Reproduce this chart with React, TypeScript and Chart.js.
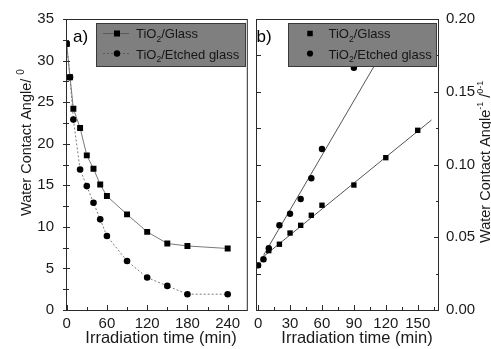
import React, { useEffect, useRef } from 'react';
import { Chart, registerables } from 'chart.js';

Chart.register(...registerables);

const FONT = '"Liberation Sans", Arial, Helvetica, sans-serif';
const TXT = '#1a1a1a';

// ---- panel a) data: water contact angle vs irradiation time ----
const timeA = [0, 5, 10, 20, 30, 40, 50, 60, 90, 120, 150, 180, 240];
const angleGlass = [32, 28, 24.2, 21.9, 18.6, 17, 15.1, 13.7, 11.5, 9.4, 8, 7.7, 7.4];
const angleEtched = [32, 28, 22.9, 16.9, 14.9, 12.9, 10.9, 8.9, 5.9, 3.9, 2.9, 1.9, 1.9];
const ticksA_X = [0, 60, 120, 180, 240];
const ticksA_Y = [0, 5, 10, 15, 20, 25, 30, 35];

// ---- panel b) data: inverse contact angle vs irradiation time ----
const timeBGlass = [0, 5, 10, 20, 30, 40, 50, 60, 90, 120, 150];
const invGlass = [0.0307, 0.0348, 0.0408, 0.0452, 0.0529, 0.0582, 0.0651, 0.072, 0.0859, 0.1047, 0.1235];
const timeBEtched = [0, 5, 10, 20, 30, 40, 50, 60, 90];
const invEtched = [0.0307, 0.0348, 0.0424, 0.0582, 0.0662, 0.0763, 0.0905, 0.1107, 0.1665];
const fitGlassX = [3, 163];
const fitGlassY = [0.0355, 0.1306];
const fitEtchedX = [5, 120];
const fitEtchedY = [0.0375, 0.1813];
const ticksB_X = [0, 30, 60, 90, 120, 150];
const ticksB_Y = [0, 0.05, 0.1, 0.15, 0.2];

type Part = { t: string; k?: 'sub' | 'sup' };

function drawParts(ctx: CanvasRenderingContext2D, x: number, y: number, parts: Part[], size: number, small: number) {
  let cx = x;
  for (const p of parts) {
    const fs = p.k ? small : size;
    ctx.font = `${fs}px ${FONT}`;
    const dy = p.k === 'sub' ? size * 0.28 : p.k === 'sup' ? -size * 0.42 : 0;
    ctx.fillText(p.t, cx, y + dy);
    cx += ctx.measureText(p.t).width;
  }
  return cx - x;
}

function drawSquare(ctx: CanvasRenderingContext2D, x: number, y: number, s: number) {
  ctx.fillStyle = '#000';
  ctx.fillRect(x - s / 2, y - s / 2, s, s);
}
function drawCircle(ctx: CanvasRenderingContext2D, x: number, y: number, r: number) {
  ctx.fillStyle = '#000';
  ctx.beginPath();
  ctx.arc(x, y, r, 0, Math.PI * 2);
  ctx.fill();
}

function drawLegendBox(ctx: CanvasRenderingContext2D, x: number, y: number, w: number, h: number) {
  ctx.fillStyle = '#7f7f7f';
  ctx.fillRect(x, y, w, h);
  ctx.strokeStyle = '#3a3a3a';
  ctx.lineWidth = 1;
  ctx.strokeRect(x + 0.5, y + 0.5, w - 1, h - 1);
}

function frameAndTicks(chart: any, opts: {
  xMinor: number; xMajor: number; xMax: number;
  yMinor: number; yMajor: number; yMax: number;
  ySide: 'left' | 'right';
  mirrorLeft?: boolean;
}) {
  const { ctx, chartArea: a, scales } = chart;
  const xs = scales.x, ys = scales.y;
  ctx.save();
  ctx.strokeStyle = '#2a2a2a';
  ctx.lineWidth = 1;
  ctx.strokeRect(a.left + 0.5, a.top + 0.5, a.right - a.left - 1, a.bottom - a.top);
  ctx.beginPath();
  const nx = Math.round(opts.xMax / opts.xMinor);
  for (let i = 0; i <= nx; i++) {
    const v = i * opts.xMinor;
    const px = Math.round(xs.getPixelForValue(v)) + 0.5;
    const major = Math.abs(v / opts.xMajor - Math.round(v / opts.xMajor)) < 1e-6;
    const len = major ? 5 : 3;
    ctx.moveTo(px, a.bottom);
    ctx.lineTo(px, a.bottom - len);
  }
  const ny = Math.round(opts.yMax / opts.yMinor);
  for (let i = 0; i <= ny; i++) {
    const v = i * opts.yMinor;
    const py = Math.round(ys.getPixelForValue(v)) + 0.5;
    const major = Math.abs(v / opts.yMajor - Math.round(v / opts.yMajor)) < 1e-6;
    if (opts.ySide === 'left') {
      ctx.moveTo(a.left - 3, py);
      ctx.lineTo(a.left + (major ? 4 : 3), py);
    } else {
      const len = major ? 5 : 3;
      ctx.moveTo(a.right, py);
      ctx.lineTo(a.right - len, py);
      if (opts.mirrorLeft) {
        ctx.moveTo(a.left + 1, py);
        ctx.lineTo(a.left + 5, py);
      }
    }
  }
  ctx.stroke();
  ctx.restore();
}

const leftDecor = {
  id: 'leftDecor',
  afterDatasetsDraw(chart: any) {
    const ctx: CanvasRenderingContext2D = chart.ctx;
    frameAndTicks(chart, { xMinor: 30, xMajor: 60, xMax: 240, yMinor: 2.5, yMajor: 5, yMax: 35, ySide: 'left' });
    ctx.save();
    // legend
    drawLegendBox(ctx, 96, 23, 150, 44);
    ctx.strokeStyle = '#5a5a5a';
    ctx.lineWidth = 1;
    ctx.beginPath();
    ctx.moveTo(103, 33.5);
    ctx.lineTo(129, 33.5);
    ctx.stroke();
    ctx.setLineDash([2, 2]);
    ctx.beginPath();
    ctx.moveTo(103, 53.5);
    ctx.lineTo(129, 53.5);
    ctx.stroke();
    ctx.setLineDash([]);
    drawSquare(ctx, 117, 33.5, 6);
    drawCircle(ctx, 117, 53.5, 3.2);
    ctx.fillStyle = '#161616';
    ctx.textBaseline = 'alphabetic';
    ctx.textAlign = 'left';
    drawParts(ctx, 136, 38, [{ t: 'TiO' }, { t: '2', k: 'sub' }, { t: '/Glass' }], 13, 8.5);
    drawParts(ctx, 136, 58.5, [{ t: 'TiO' }, { t: '2', k: 'sub' }, { t: '/Etched glass' }], 13, 8.5);
    // panel label
    ctx.fillStyle = '#000';
    ctx.font = `17px ${FONT}`;
    ctx.fillText('a)', 73, 41.6);
    // x title
    ctx.fillStyle = TXT;
    ctx.font = `16.5px ${FONT}`;
    ctx.textAlign = 'center';
    ctx.fillText('Irradiation time (min)', 161, 342.5);
    // y title (rotated)
    ctx.translate(30.5, 216);
    ctx.rotate(-Math.PI / 2);
    ctx.textAlign = 'left';
    drawParts(ctx, 0, 0, [{ t: 'Water Contact Angle/ ' }, { t: '0', k: 'sup' }], 14.5, 10);
    ctx.restore();
  },
};

const rightDecor = {
  id: 'rightDecor',
  afterDatasetsDraw(chart: any) {
    const ctx: CanvasRenderingContext2D = chart.ctx;
    frameAndTicks(chart, { xMinor: 15, xMajor: 30, xMax: 165, yMinor: 0.025, yMajor: 0.05, yMax: 0.2, ySide: 'right', mirrorLeft: true });
    const ox = 252; // page offset of this canvas
    ctx.save();
    drawLegendBox(ctx, 288 - ox, 23, 149, 44);
    drawSquare(ctx, 310 - ox, 33.5, 5.5);
    drawCircle(ctx, 310 - ox, 53.5, 3.1);
    ctx.fillStyle = '#161616';
    ctx.textBaseline = 'alphabetic';
    ctx.textAlign = 'left';
    drawParts(ctx, 328.5 - ox, 38, [{ t: 'TiO' }, { t: '2', k: 'sub' }, { t: '/Glass' }], 13, 8.5);
    drawParts(ctx, 328.5 - ox, 58.5, [{ t: 'TiO' }, { t: '2', k: 'sub' }, { t: '/Etched glass' }], 13, 8.5);
    ctx.fillStyle = '#000';
    ctx.font = `17px ${FONT}`;
    ctx.fillText('b)', 256.5 - ox, 41.6);
    ctx.fillStyle = TXT;
    ctx.font = `16.5px ${FONT}`;
    ctx.textAlign = 'center';
    ctx.fillText('Irradiation time (min)', 357 - ox, 342.5);
    ctx.translate(489.5 - ox, 243);
    ctx.rotate(-Math.PI / 2);
    ctx.textAlign = 'left';
    drawParts(ctx, 0, 0, [{ t: 'Water Contact Angle' }, { t: '-1', k: 'sup' }, { t: ' /' }, { t: '0-1', k: 'sup' }], 14.5, 9);
    ctx.restore();
  },
};

const tickFont = { family: FONT, size: 15 };

function pts(xs: number[], ys: number[]) {
  return xs.map((x, i) => ({ x, y: ys[i] }));
}

export default function App() {
  const leftRef = useRef<HTMLCanvasElement>(null);
  const rightRef = useRef<HTMLCanvasElement>(null);

  useEffect(() => {
    const left = new Chart(leftRef.current as HTMLCanvasElement, {
      type: 'scatter',
      data: {
        datasets: [
          {
            data: pts(timeA, angleGlass),
            showLine: true,
            borderColor: '#7a7a7a',
            borderWidth: 1,
            pointStyle: 'rect',
            pointRadius: 4.2,
            pointBackgroundColor: '#000',
            pointBorderWidth: 0,
          },
          {
            data: pts(timeA, angleEtched),
            showLine: true,
            borderColor: '#7a7a7a',
            borderWidth: 1,
            borderDash: [2, 2],
            pointStyle: 'circle',
            pointRadius: 3.3,
            pointBackgroundColor: '#000',
            pointBorderWidth: 0,
          },
        ],
      } as any,
      options: {
        animation: false,
        responsive: false,
        devicePixelRatio: 1,
        layout: { padding: { top: 19, right: 1, left: 0, bottom: 0 } },
        plugins: { legend: { display: false }, tooltip: { enabled: false } },
        scales: {
          x: {
            type: 'linear',
            min: -1,
            max: 270,
            grid: { display: false, drawTicks: false },
            border: { display: false },
            afterBuildTicks: (s: any) => { s.ticks = ticksA_X.map((v) => ({ value: v })); },
            ticks: { padding: 5, color: TXT, font: tickFont, maxRotation: 0, autoSkip: false },
            afterFit: (s: any) => { s.height = 39; s.paddingLeft = 0; s.paddingRight = 0; },
          },
          y: {
            type: 'linear',
            min: 0,
            max: 35,
            grid: { display: false, drawTicks: false },
            border: { display: false },
            afterBuildTicks: (s: any) => { s.ticks = ticksA_Y.map((v) => ({ value: v })); },
            ticks: { padding: 12, color: TXT, font: tickFont, autoSkip: false },
            afterFit: (s: any) => { s.width = 66; s.paddingTop = 0; s.paddingBottom = 0; },
          },
        },
      } as any,
      plugins: [leftDecor],
    });

    const right = new Chart(rightRef.current as HTMLCanvasElement, {
      type: 'scatter',
      data: {
        datasets: [
          {
            data: pts(timeBGlass, invGlass),
            pointStyle: 'rect',
            pointRadius: 3.8,
            pointBackgroundColor: '#000',
            pointBorderWidth: 0,
          },
          {
            data: pts(timeBEtched, invEtched),
            pointStyle: 'circle',
            pointRadius: 3.2,
            pointBackgroundColor: '#000',
            pointBorderWidth: 0,
          },
          {
            data: pts(fitGlassX, fitGlassY),
            showLine: true,
            borderColor: '#555',
            borderWidth: 1,
            pointRadius: 0,
          },
          {
            data: pts(fitEtchedX, fitEtchedY),
            showLine: true,
            borderColor: '#555',
            borderWidth: 1,
            pointRadius: 0,
          },
        ],
      } as any,
      options: {
        animation: false,
        responsive: false,
        devicePixelRatio: 1,
        layout: { padding: { top: 19, right: 0, left: 1, bottom: 0 } },
        plugins: { legend: { display: false }, tooltip: { enabled: false } },
        scales: {
          x: {
            type: 'linear',
            min: -2,
            max: 170,
            grid: { display: false, drawTicks: false },
            border: { display: false },
            afterBuildTicks: (s: any) => { s.ticks = ticksB_X.map((v) => ({ value: v })); },
            ticks: { padding: 5, color: TXT, font: tickFont, maxRotation: 0, autoSkip: false },
            afterFit: (s: any) => { s.height = 39; s.paddingLeft = 0; s.paddingRight = 0; },
          },
          y: {
            type: 'linear',
            position: 'right',
            min: 0,
            max: 0.2,
            grid: { display: false, drawTicks: false },
            border: { display: false },
            afterBuildTicks: (s: any) => { s.ticks = ticksB_Y.map((v) => ({ value: v })); },
            ticks: {
              padding: 7,
              color: TXT,
              font: tickFont,
              autoSkip: false,
              callback: (v: any) => Number(v).toFixed(2),
            },
            afterFit: (s: any) => { s.width = 52; s.paddingTop = 0; s.paddingBottom = 0; },
          },
        },
      } as any,
      plugins: [rightDecor],
    });

    return () => {
      left.destroy();
      right.destroy();
    };
  }, []);

  return (
    <div style={{ position: 'absolute', left: 0, top: 0, width: 491, height: 349, background: '#fff' }}>
      <canvas ref={leftRef} width={252} height={349} style={{ position: 'absolute', left: 0, top: 0, width: 252, height: 349 }} />
      <canvas ref={rightRef} width={239} height={349} style={{ position: 'absolute', left: 252, top: 0, width: 239, height: 349 }} />
    </div>
  );
}
